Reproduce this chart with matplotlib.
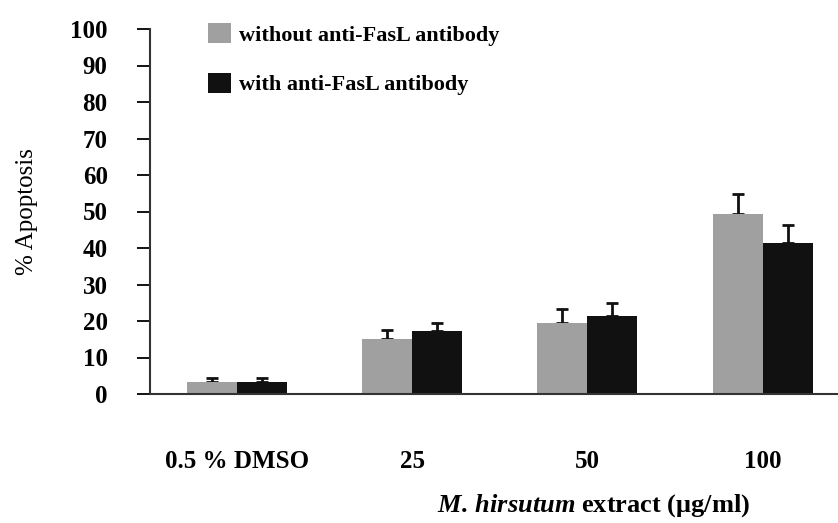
import matplotlib
matplotlib.use('Agg')
import matplotlib.pyplot as plt
import numpy as np

plt.rcParams['font.family'] = ['Liberation Serif', 'DejaVu Serif']
plt.rcParams['mathtext.fontset'] = 'custom'
plt.rcParams['mathtext.rm'] = 'Liberation Serif:bold'
plt.rcParams['mathtext.it'] = 'Liberation Serif:italic:bold'
plt.rcParams['mathtext.bf'] = 'Liberation Serif:bold'

categories = ['0.5 % DMSO', '25', '50', '100']
without_vals = [3.3, 15.0, 19.5, 49.3]
without_err = [1.1, 2.5, 3.8, 5.5]
with_vals = [3.3, 17.3, 21.4, 41.4]
with_err = [1.1, 2.1, 3.5, 4.9]
labels = ['without anti-FasL antibody', 'with anti-FasL antibody']

fig = plt.figure(figsize=(8.38, 5.23), dpi=100)
ax = fig.add_axes([150/838, 1-394/523, 1-150/838, (394-29)/523])

x = np.arange(len(categories))
w = 0.285
ax.bar(x - w/2, without_vals, w, color='#a0a0a0', label=labels[0], zorder=2)
ax.bar(x + w/2, with_vals, w, color='#111111', label=labels[1], zorder=2)
ax.errorbar(x - w/2, without_vals, yerr=[np.zeros(4), without_err], fmt='none',
            ecolor='#111111', elinewidth=2, capsize=4, capthick=2, zorder=1)
ax.errorbar(x + w/2, with_vals, yerr=[np.zeros(4), with_err], fmt='none',
            ecolor='#111111', elinewidth=2, capsize=4, capthick=2, zorder=1)

ax.set_xlim(-0.496, 3.43)
ax.set_ylim(0, 100)
ax.set_yticks(range(0, 101, 10))
ax.tick_params(axis='y', direction='out', length=9.5, width=1.3, labelsize=18, pad=21)
ax.tick_params(axis='x', length=0, labelsize=18, pad=40)
ax.set_xticks(x)
ax.set_xticklabels(categories)
for t in ax.get_xticklabels() + ax.get_yticklabels():
    t.set_fontweight('bold')
for s in ['top', 'right']:
    ax.spines[s].set_visible(False)
for s in ['left', 'bottom']:
    ax.spines[s].set_linewidth(1.5)
    ax.spines[s].set_color('#333333')

fig.text(27/838, 1-212/523, '% Apoptosis', rotation=90, fontsize=18,
         ha='center', va='center')
fig.text(594/838, 1-506/523, r'$\mathit{M.\,hirsutum}$ extract (μg/ml)', fontsize=19,
         fontweight='bold', ha='center', va='center')

ax.legend(loc='upper left', bbox_to_anchor=(0.055, 1.07), frameon=False,
          prop={'weight': 'bold', 'size': 16}, handlelength=1.05, handleheight=1.0,
          labelspacing=1.2, handletextpad=0.35)

fig.savefig('out.png', dpi=100)
